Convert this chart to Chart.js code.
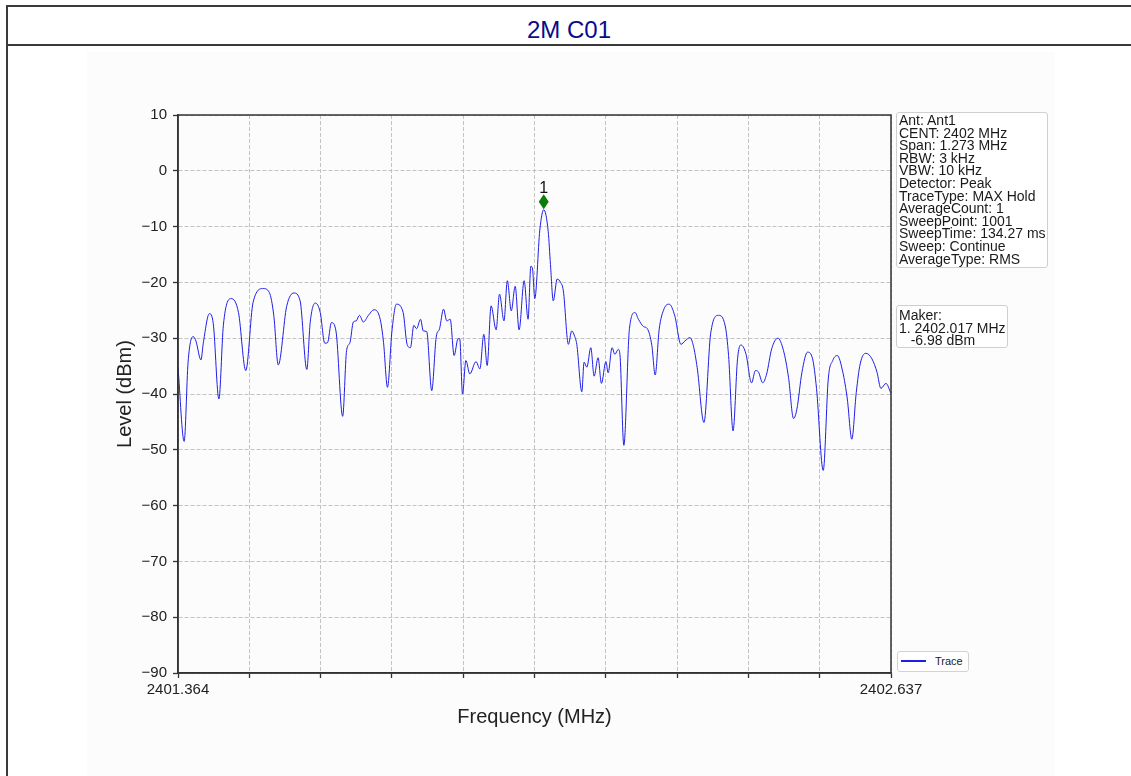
<!DOCTYPE html>
<html>
<head>
<meta charset="utf-8">
<script src="https://cdn.jsdelivr.net/npm/chart.js@4/dist/chart.umd.min.js"></script>
<style>
  html, body { margin: 0; padding: 0; background: #ffffff; }
  body { width: 1131px; height: 776px; position: relative; overflow: hidden;
         font-family: "Liberation Sans", Arial, sans-serif; }
  .hline { position: absolute; left: 6px; width: 1125px; height: 2px; background: #3a3a3a; }
  .vline { position: absolute; left: 6px; top: 5px; width: 2px; height: 771px; background: #3a3a3a; }
  #title { position: absolute; left: 7px; width: 1124px; top: 18px; line-height: 24px;
           font-size: 24px; color: #0a0a8a; text-align: center; }
  #imgbg { position: absolute; left: 87px; top: 52px; width: 968px; height: 724px; background: #fcfcfc; }
  #chart { position: absolute; left: 0; top: 0; }
  .box { position: absolute; box-sizing: border-box; border: 1px solid #cfcfcf; border-radius: 3px;
         background: #ffffff; font-size: 14px; line-height: 12.6px; color: #1a1a1a;
         white-space: pre; padding: 1px 2px 0 2px; }
  #legend { position: absolute; left: 897px; top: 651px; width: 72px; height: 21px; box-sizing: border-box;
            border: 1px solid #d2d2d2; border-radius: 3px; background: #fff; }
  #legend .ln { position: absolute; left: 3px; top: 8px; width: 25px; height: 1.5px; background: #1e1ee6; }
  #legend .tx { position: absolute; left: 37px; top: 2px; font-size: 11px; line-height: 14px; color: #222; }
</style>
</head>
<body>
<div class="hline" style="top:5px"></div>
<div class="hline" style="top:44px"></div>
<div class="vline"></div>
<div id="title">2M C01</div>
<div id="imgbg"></div>
<canvas id="chart" width="1131" height="776"></canvas>
<div class="box" id="info" style="left:896px; top:112px; width:152px; height:156px;"></div>
<div class="box" id="maker" style="left:896px; top:305px; width:112px; height:43px; padding-top:3px;"></div>
<div id="legend"><div class="ln"></div><div class="tx">Trace</div></div>
<script>
// ---------- data ----------
const freqMHz = [
  2401.364, 2401.375, 2401.382, 2401.391, 2401.396, 2401.405, 2401.409, 2401.420, 2401.427, 2401.437,
  2401.445, 2401.459, 2401.472, 2401.485, 2401.498, 2401.516, 2401.527, 2401.535, 2401.543, 2401.558,
  2401.571, 2401.582, 2401.594, 2401.600, 2401.609, 2401.618, 2401.626, 2401.631, 2401.638, 2401.646,
  2401.658, 2401.665, 2401.671, 2401.677, 2401.682, 2401.688, 2401.695, 2401.704, 2401.714, 2401.725,
  2401.731, 2401.738, 2401.746, 2401.754, 2401.766, 2401.773, 2401.779, 2401.785, 2401.790, 2401.797,
  2401.802, 2401.808, 2401.817, 2401.825, 2401.831, 2401.838, 2401.844, 2401.850, 2401.857, 2401.864,
  2401.867, 2401.872, 2401.878, 2401.885, 2401.896, 2401.903, 2401.910, 2401.916, 2401.923, 2401.932,
  2401.938, 2401.946, 2401.952, 2401.959, 2401.966, 2401.973, 2401.982, 2401.989, 2401.994, 2401.997,
  2402.001, 2402.010, 2402.017, 2402.025, 2402.029, 2402.034, 2402.041, 2402.047, 2402.052, 2402.061,
  2402.067, 2402.072, 2402.076, 2402.085, 2402.089, 2402.094, 2402.101, 2402.107, 2402.114, 2402.120,
  2402.128, 2402.132, 2402.139, 2402.144, 2402.150, 2402.153, 2402.160, 2402.170, 2402.180, 2402.186,
  2402.195, 2402.202, 2402.210, 2402.216, 2402.223, 2402.232, 2402.241, 2402.251, 2402.262, 2402.269,
  2402.278, 2402.284, 2402.291, 2402.303, 2402.315, 2402.329, 2402.341, 2402.347, 2402.355, 2402.363,
  2402.369, 2402.378, 2402.388, 2402.395, 2402.400, 2402.408, 2402.415, 2402.424, 2402.435, 2402.445,
  2402.454, 2402.463, 2402.469, 2402.478, 2402.488, 2402.497, 2402.504, 2402.516, 2402.525, 2402.533,
  2402.541, 2402.551, 2402.559, 2402.567, 2402.575, 2402.582, 2402.592, 2402.603, 2402.612, 2402.619,
  2402.628, 2402.637
];
const levelDBm = [
  -35.2, -48.5, -34.3, -29.7, -30.5, -33.9, -31.0, -25.6, -27.4, -40.9,
  -27.7, -22.9, -25.4, -35.8, -23.6, -21.1, -21.8, -25.9, -34.8, -24.3,
  -21.9, -23.3, -35.6, -27.2, -23.7, -25.4, -30.9, -30.8, -27.2, -28.7,
  -44.0, -32.2, -30.8, -27.1, -26.9, -25.9, -27.1, -25.9, -24.9, -26.6,
  -30.8, -38.8, -28.7, -23.9, -25.4, -31.1, -31.7, -27.7, -28.3, -26.6,
  -28.7, -28.8, -39.4, -29.8, -28.3, -24.8, -26.9, -26.6, -33.1, -30.1,
  -30.1, -40.0, -34.0, -36.4, -34.2, -35.5, -29.3, -34.9, -24.2, -28.5,
  -22.1, -26.9, -19.7, -25.1, -20.7, -28.5, -19.7, -26.6, -17.1, -17.6,
  -22.9, -10.6, -6.98, -10.9, -16.8, -23.3, -19.4, -20.0, -21.5, -31.1,
  -28.7, -29.6, -31.1, -39.6, -34.3, -35.2, -31.7, -36.8, -33.5, -38.1,
  -34.2, -36.2, -31.7, -32.9, -32.0, -32.9, -49.2, -28.3, -25.4, -26.6,
  -27.9, -28.3, -31.3, -36.6, -28.5, -24.7, -23.9, -26.0, -31.1, -30.5,
  -29.9, -31.3, -35.3, -45.1, -29.2, -25.9, -27.8, -33.1, -46.6, -33.7,
  -31.2, -32.8, -38.0, -35.8, -36.0, -38.0, -36.4, -31.9, -30.0, -32.2,
  -37.0, -44.4, -42.7, -36.1, -32.5, -33.7, -39.0, -53.7, -37.3, -34.0,
  -33.1, -36.1, -40.9, -48.1, -39.7, -34.6, -32.7, -33.7, -36.1, -39.0,
  -38.1, -39.9
];
const xMin = 2401.364;
const xMax = 2402.637;
const xTickCount = 11;
const xTickLabels = ['2401.364', '', '', '', '', '', '', '', '', '', '2402.637'];
const yMin = -90, yMax = 10, yStep = 10;
const markerFreq = 2402.017;
const markerLevel = -6.98;
const markerName = '1';
const infoLines = [
  'Ant: Ant1', 'CENT: 2402 MHz', 'Span: 1.273 MHz', 'RBW: 3 kHz', 'VBW: 10 kHz',
  'Detector: Peak', 'TraceType: MAX Hold', 'AverageCount: 1', 'SweepPoint: 1001',
  'SweepTime: 134.27 ms', 'Sweep: Continue', 'AverageType: RMS'
];
const makerLines = ['Maker:', '1. 2402.017 MHz', '   -6.98 dBm'];

document.getElementById('info').textContent = infoLines.join('\n');
document.getElementById('maker').textContent = makerLines.join('\n');

const FONT = '"Liberation Sans", Arial, sans-serif';
const traceData = freqMHz.map((f, i) => ({ x: f, y: levelDBm[i] }));

const framePlugin = {
  id: 'frame',
  afterDraw(chart) {
    const { ctx, chartArea: a, scales } = chart;
    ctx.save();
    ctx.strokeStyle = '#333333';
    ctx.lineWidth = 1.5;
    ctx.strokeRect(a.left, a.top, a.right - a.left, a.bottom - a.top);
    // marker
    const px = scales.x.getPixelForValue(markerFreq);
    const py = scales.y.getPixelForValue(markerLevel) - 8;
    ctx.fillStyle = '#0a7d0a';
    ctx.beginPath();
    ctx.moveTo(px, py - 7.5);
    ctx.lineTo(px + 5, py);
    ctx.lineTo(px, py + 7.5);
    ctx.lineTo(px - 5, py);
    ctx.closePath();
    ctx.fill();
    ctx.fillStyle = '#111';
    ctx.font = '16px ' + FONT;
    ctx.textAlign = 'center';
    ctx.textBaseline = 'alphabetic';
    ctx.fillText(markerName, px, py - 9);
    ctx.restore();
  }
};

new Chart(document.getElementById('chart'), {
  type: 'line',
  data: {
    datasets: [{
      label: 'Trace',
      data: traceData,
      borderColor: 'rgb(30,30,230)',
      borderWidth: 1,
      pointRadius: 0,
      cubicInterpolationMode: 'monotone',
      fill: false
    }]
  },
  options: {
    responsive: false,
    animation: false,
    devicePixelRatio: 1,
    events: [],
    layout: { padding: { left: 113, right: 240, top: 115, bottom: 47 } },
    plugins: { legend: { display: false }, tooltip: { enabled: false } },
    scales: {
      x: {
        type: 'linear',
        min: xMin, max: xMax,
        afterBuildTicks: (s) => {
          const t = [];
          for (let i = 0; i < xTickCount; i++) t.push({ value: xMin + (xMax - xMin) * i / (xTickCount - 1) });
          s.ticks = t;
        },
        afterFit: (s) => { s.height = 56; },
        ticks: {
          autoSkip: false, maxRotation: 0, minRotation: 0, padding: 3,
          color: '#222', font: { size: 15, family: FONT },
          callback: (v, i) => xTickLabels[i]
        },
        grid: { color: '#b4b4b4', lineWidth: 0.8, tickLength: 5, tickColor: '#333', tickWidth: 1.3 },
        border: { display: true, color: '#333', width: 1.5, dash: [4, 2] },
        title: { display: true, text: 'Frequency (MHz)', color: '#222',
                 font: { size: 20, family: FONT }, padding: { top: 0, bottom: 0 } }
      },
      y: {
        type: 'linear',
        min: yMin, max: yMax,
        afterFit: (s) => { s.width = 65; },
        ticks: {
          stepSize: yStep, padding: 6, color: '#222', font: { size: 15, family: FONT },
          callback: (v) => String(v).replace('-', '\u2212')
        },
        grid: { color: '#b4b4b4', lineWidth: 0.8, tickLength: 5, tickColor: '#333', tickWidth: 1.3 },
        border: { display: true, color: '#333', width: 1.5, dash: [4, 2] },
        title: { display: true, text: 'Level (dBm)', color: '#222',
                 font: { size: 20, family: FONT }, padding: { top: 0, bottom: 0 } }
      }
    }
  },
  plugins: [framePlugin]
});
</script>
</body>
</html>
